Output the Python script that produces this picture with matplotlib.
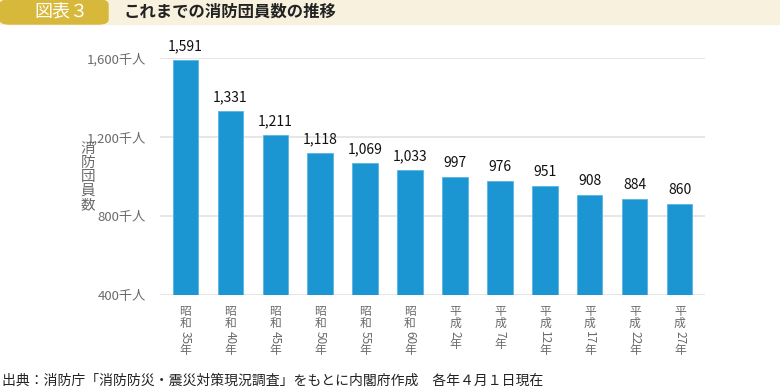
import re
import matplotlib.pyplot as plt
from matplotlib.patches import FancyBboxPatch, Rectangle
import matplotlib.transforms as mtransforms

plt.rcParams['font.family'] = ['Noto Sans CJK JP', 'DejaVu Sans']

years = ["昭和35年", "昭和40年", "昭和45年", "昭和50年", "昭和55年", "昭和60年",
         "平成2年", "平成7年", "平成12年", "平成17年", "平成22年", "平成27年"]
members = [1591, 1331, 1211, 1118, 1069, 1033, 997, 976, 951, 908, 884, 860]
yticks = [400, 800, 1200, 1600]

BAR = "#1b96d3"
GRAY = "#6a6a6a"
DPI = 100

fig = plt.figure(figsize=(7.8, 3.89), dpi=DPI)

# header band
fig.patches.append(Rectangle((0, 1 - 24 / 389), 1, 24 / 389, transform=fig.transFigure,
                             color="#f8f1de", zorder=0))
fig.patches.append(FancyBboxPatch((0, 1 - 24 / 389), 108 / 780, 24 / 389,
                                  boxstyle="round,pad=0,rounding_size=0.012",
                                  transform=fig.transFigure, color="#d8b83a", zorder=1))
fig.text(34 / 780, 1 - 12 / 389, "図表３", color="white", fontsize=13, va="center", ha="left")
fig.text(124 / 780, 1 - 12 / 389, "これまでの消防団員数の推移", color="#222222",
         fontsize=11.8, fontweight="bold", va="center", ha="left")

ax = fig.add_axes([160 / 780, 1 - 295 / 389, 545 / 780, 237 / 389])
x = list(range(len(years)))
ax.bar(x, members, width=0.56, color=BAR, edgecolor="#5bb5e3", linewidth=0.6, zorder=3)
for i, v in zip(x, members):
    ax.annotate(f"{v:,}", (i, v), xytext=(0, 5), textcoords="offset points",
                ha="center", va="bottom", fontsize=10, color="#111111")

ax.set_ylim(400, 1600)
ax.set_xlim(-0.56, len(years) - 0.44)
ax.set_yticks(yticks)
ax.set_yticklabels([f"{t:,}千人" for t in yticks], color=GRAY, fontsize=9.5)
ax.tick_params(axis="y", length=0, pad=10)
ax.tick_params(axis="x", length=0, labelbottom=False)
ax.grid(axis="y", color="#e2e2e2", linewidth=1.2, zorder=0)
for s in ax.spines.values():
    s.set_visible(False)

# vertical tick labels: CJK upright (stacked), digits sideways
renderer = fig.canvas.get_renderer()
trans = mtransforms.blended_transform_factory(ax.transData, ax.transAxes)
fs = 8.5
for i, lab in enumerate(years):
    off = 7.5
    for seg in re.findall(r"\d+|\D+", lab):
        if seg.isdigit():
            t = ax.annotate(seg, (i, 0), xycoords=trans, xytext=(0, -off),
                            textcoords="offset points", rotation=-90, ha="center",
                            va="top", fontsize=fs, color=GRAY)
        else:
            t = ax.annotate("\n".join(seg), (i, 0), xycoords=trans, xytext=(0, -off),
                            textcoords="offset points", ha="center", va="top",
                            fontsize=fs, color=GRAY, linespacing=0.88)
        h = t.get_window_extent(renderer).height * 72 / DPI
        off += h + 0.3

fig.text(88 / 780, 1 - 177 / 389, "\n".join("消防団員数"), color=GRAY, fontsize=10.5,
         ha="center", va="center", linespacing=1.0)

fig.text(2 / 780, 1 - 381 / 389,
         "出典：消防庁「消防防災・震災対策現況調査」をもとに内閣府作成　各年４月１日現在",
         fontsize=10, color="#222222", ha="left", va="center")

fig.savefig("out.png", dpi=DPI)
